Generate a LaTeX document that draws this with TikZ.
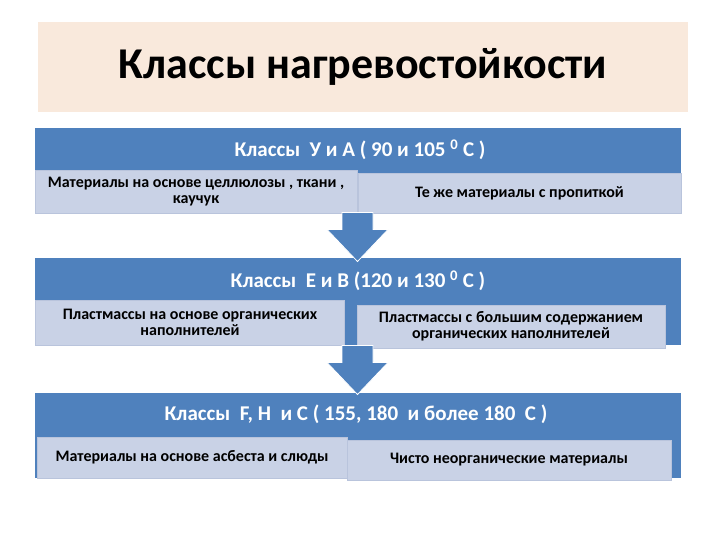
\documentclass[tikz,border=0pt]{standalone}
\usepackage{fontspec}
\setmainfont{Carlito}
\definecolor{HBlue}{RGB}{79,129,189}
\definecolor{HLight}{RGB}{201,210,230}
\definecolor{HShade}{RGB}{185,196,220}
\definecolor{HPeach}{RGB}{249,233,220}

\begin{document}
\begin{tikzpicture}[x=1pt,y=-1pt,
    titlebox/.style={fill=HPeach,minimum width=650pt,minimum height=90pt,inner sep=0pt,font=\fontsize{44}{48}\selectfont\bfseries},
    classbox/.style={fill=HBlue,minimum width=646pt,inner sep=0pt},
    headtext/.style={text=white,font=\fontsize{21}{24}\selectfont\bfseries,inner sep=0pt},
    subbox/.style={fill=HLight,draw=HShade,line width=.4pt,inner sep=1pt,align=center,font=\fontsize{16}{16}\selectfont\bfseries},
    blkarrow/.style={fill=HBlue,draw=white,line width=.8pt}]
  \useasboundingbox (0,0) rectangle (720,540);
  % title
  \node[titlebox] (title) at (363,67) {Классы нагревостойкости};
  % first class
  \node[classbox,minimum height=84pt] (c1) at (358,170) {};
  \node[headtext] (h1) at (360,150) {Классы\ \ У и А ( 90 и 105 \textsuperscript{0} С )};
  \node[subbox,minimum width=322pt,minimum height=43pt] (m1) at (196,191.5) {Материалы на основе целлюлозы , ткани ,\\ каучук};
  \node[subbox,minimum width=323pt,minimum height=40pt] (p1) at (519.5,193) {Те же материалы с пропиткой};
  % second class
  \node[classbox,minimum height=87pt] (c2) at (358,301.5) {};
  \node[headtext] (h2) at (358,281) {Классы\ \ Е и В (120 и 130 \textsuperscript{0} С )};
  \node[subbox,minimum width=309pt,minimum height=45pt] (m2) at (190,322.5) {Пластмассы на основе органических\\ наполнителей};
  \node[subbox,minimum width=308pt,minimum height=43pt] (p2) at (511,326.5) {Пластмассы с большим содержанием\\ органических наполнителей};
  % third class
  \node[classbox,minimum height=85pt] (c3) at (358,435.5) {};
  \node[headtext] (h3) at (356,414) {Классы\ \ F, H\ \ и C ( 155, 180\ \ и более 180\ \ C )};
  \node[subbox,minimum width=310pt,minimum height=41pt] (m3) at (192,457.5) {Материалы на основе асбеста и слюды};
  \node[subbox,minimum width=324pt,minimum height=40pt] (p3) at (509,460) {Чисто неорганические материалы};
  % arrows between classes
  \coordinate (a1) at (357.5,212.5);
  \coordinate (a2) at (357.5,345.5);
  \foreach \a in {a1,a2}
    \path[blkarrow] (\a) ++(-15.5,0) -- ++(31,0) -- ++(0,17) -- ++(15,0) -- ++(-30.5,32) -- ++(-30.5,-32) -- ++(15,0) -- cycle;
\end{tikzpicture}
\end{document}
